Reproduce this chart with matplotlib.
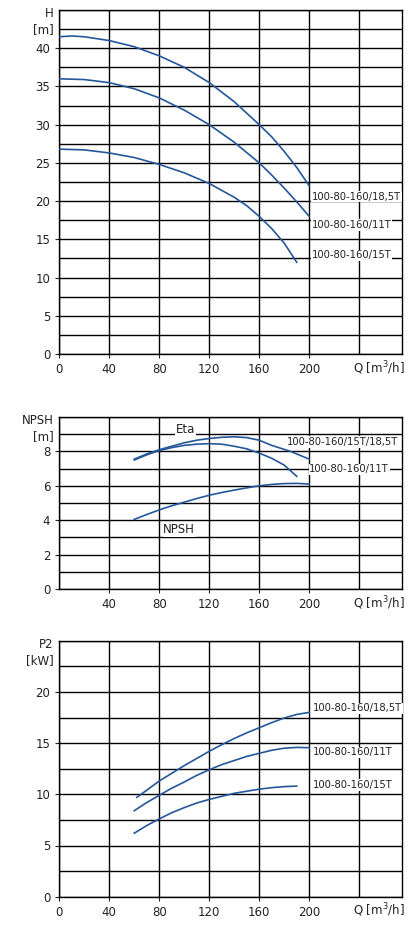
import numpy as np
import matplotlib.pyplot as plt

# --- data ---
q_h185 = [0, 10, 20, 40, 60, 80, 100, 120, 140, 160, 170, 180, 190, 200]
h_185 = [41.5, 41.6, 41.5, 41.0, 40.2, 39.0, 37.5, 35.5, 33.0, 30.0, 28.4, 26.5, 24.4, 22.0]
q_h11 = [0, 20, 40, 60, 80, 100, 120, 140, 160, 170, 180, 190, 200]
h_11 = [36.0, 35.9, 35.5, 34.7, 33.5, 31.9, 30.0, 27.7, 25.0, 23.4, 21.7, 19.9, 18.0]
q_h15 = [0, 20, 40, 60, 80, 100, 120, 140, 150, 160, 170, 180, 190]
h_15 = [26.8, 26.7, 26.3, 25.7, 24.8, 23.7, 22.3, 20.5, 19.4, 18.0, 16.4, 14.5, 12.0]

q_eta15 = [60, 70, 80, 90, 100, 110, 120, 130, 140, 150, 160, 170, 185, 200]
eta_15 = [7.55, 7.85, 8.1, 8.3, 8.5, 8.65, 8.75, 8.82, 8.85, 8.8, 8.65, 8.35, 8.0, 7.55]
q_eta11 = [60, 70, 80, 90, 100, 110, 120, 130, 140, 150, 160, 170, 180, 190]
eta_11 = [7.5, 7.8, 8.05, 8.22, 8.35, 8.42, 8.45, 8.42, 8.3, 8.15, 7.9, 7.6, 7.2, 6.55]
q_npsh = [60, 70, 80, 90, 100, 110, 120, 130, 140, 150, 160, 170, 180, 190, 200]
npsh = [4.05, 4.33, 4.6, 4.84, 5.05, 5.26, 5.45, 5.61, 5.75, 5.88, 6.0, 6.08, 6.13, 6.14, 6.1]

q_p185 = [62, 70, 80, 90, 100, 110, 120, 130, 140, 150, 160, 170, 180, 190, 200]
p_185 = [9.7, 10.4, 11.3, 12.05, 12.8, 13.5, 14.2, 14.85, 15.45, 16.0, 16.5, 17.0, 17.45, 17.8, 18.0]
q_p11 = [60, 70, 80, 90, 100, 110, 120, 130, 140, 150, 160, 170, 180, 190, 200]
p_11 = [8.4, 9.2, 9.9, 10.6, 11.2, 11.85, 12.4, 12.9, 13.3, 13.7, 14.0, 14.3, 14.5, 14.58, 14.55]
q_p15 = [60, 70, 80, 90, 100, 110, 120, 130, 140, 150, 160, 170, 180, 190]
p_15 = [6.2, 6.95, 7.6, 8.2, 8.7, 9.15, 9.5, 9.8, 10.1, 10.3, 10.5, 10.65, 10.75, 10.8]

labels = ["100-80-160/18,5T", "100-80-160/11T", "100-80-160/15T"]

LINE = "#24579a"
W, H = 419, 936
fig = plt.figure(figsize=(W / 100, H / 100), dpi=100)


def make_axes(top, bottom, ymax, ystep, yticks, xticks, ylab):
    ax = fig.add_axes([59.3 / W, 1 - bottom / H, 342.4 / W, (bottom - top) / H])
    ax.set_xlim(0, 274)
    ax.set_ylim(0, ymax)
    for x in range(0, 241, 40):
        ax.axvline(x, color="black", lw=1, zorder=1)
    for y in np.arange(0, ymax + 0.01, ystep):
        ax.axhline(y, color="black", lw=1, zorder=1)
    ax.set_xticks(xticks)
    ax.set_yticks(yticks)
    ax.tick_params(labelsize=8.5, length=3, colors="#222222")
    for s in ax.spines.values():
        s.set_linewidth(1)
    ax.annotate("Q [m$^3$/h]", xy=(256, 0), xycoords=("data", "axes fraction"),
                xytext=(0, -10), textcoords="offset points", fontsize=8.5,
                ha="center", va="center", color="#222222")
    ax.annotate(ylab, xy=(0, 1), xycoords="axes fraction", xytext=(-4, 2),
                textcoords="offset points", fontsize=8.5, ha="right", va="top",
                linespacing=1.3, color="#222222")
    return ax


def tag(ax, x, y, s):
    ax.text(x, y, s, fontsize=7.2, va="center", ha="left", color="#222222",
            bbox=dict(facecolor="white", edgecolor="none", pad=0.5), zorder=4)


# H panel
ax1 = make_axes(10, 354, 45, 2.5, range(0, 41, 5), range(0, 201, 40), "H\n[m]")
for q, h in [(q_h185, h_185), (q_h11, h_11), (q_h15, h_15)]:
    ax1.plot(q, h, color=LINE, lw=1.2, zorder=3)
tag(ax1, 202, 20.6, labels[0])
tag(ax1, 202, 16.9, labels[1])
tag(ax1, 202, 12.9, labels[2])

# NPSH / Eta panel
ax2 = make_axes(417, 589, 10, 1, range(0, 9, 2), range(40, 201, 40), "NPSH\n[m]")
for q, v in [(q_eta15, eta_15), (q_eta11, eta_11), (q_npsh, npsh)]:
    ax2.plot(q, v, color=LINE, lw=1.2, zorder=3)
ax2.text(101, 9.25, "Eta", fontsize=8.5, ha="center", va="center", color="#222222",
         bbox=dict(facecolor="white", edgecolor="none", pad=0.5), zorder=4)
ax2.text(96, 3.45, "NPSH", fontsize=8.5, ha="center", va="center", color="#222222",
         bbox=dict(facecolor="white", edgecolor="none", pad=0.5), zorder=4)
tag(ax2, 182, 8.55, "100-80-160/15T/18,5T")
tag(ax2, 200, 6.95, labels[1])

# P2 panel
ax3 = make_axes(640.7, 896.7, 25, 2.5, range(0, 21, 5), range(0, 201, 40), "P2\n[kW]")
for q, p in [(q_p185, p_185), (q_p11, p_11), (q_p15, p_15)]:
    ax3.plot(q, p, color=LINE, lw=1.2, zorder=3)
tag(ax3, 203, 18.4, labels[0])
tag(ax3, 203, 14.1, labels[1])
tag(ax3, 203, 10.9, labels[2])

fig.savefig("out.png", dpi=100)
plt.close(fig)
